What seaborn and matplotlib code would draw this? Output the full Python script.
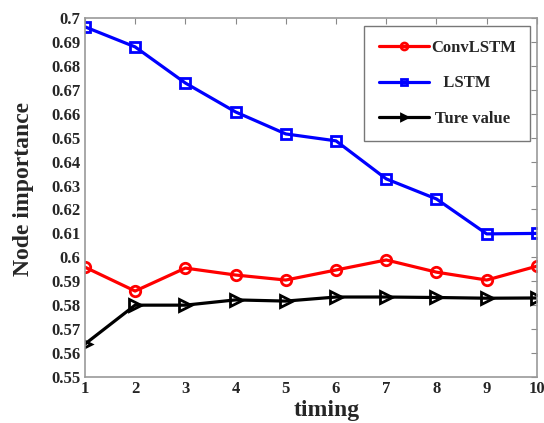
import seaborn as sns
import matplotlib.pyplot as plt
import pandas as pd

timing = [1, 2, 3, 4, 5, 6, 7, 8, 9, 10]
convlstm = [0.5959, 0.5859, 0.5955, 0.5926, 0.5905, 0.5947, 0.5989, 0.5938, 0.5905, 0.5963]
lstm = [0.6964, 0.6880, 0.6729, 0.6608, 0.6516, 0.6487, 0.6328, 0.6244, 0.6098, 0.6100]
true_value = [0.5637, 0.5800, 0.5800, 0.5822, 0.5817, 0.5834, 0.5834, 0.5832, 0.5829, 0.5830]
yticks = [0.55, 0.56, 0.57, 0.58, 0.59, 0.6, 0.61, 0.62, 0.63, 0.64, 0.65, 0.66, 0.67, 0.68, 0.69, 0.7]

sns.set_style("white")
plt.rcParams['font.family'] = ['Liberation Serif', 'DejaVu Serif']
plt.rcParams['font.weight'] = 'bold'

fig = plt.figure(figsize=(5.44, 4.23), dpi=100)
ax = fig.add_axes([0.156, 0.109, 0.831, 0.848])

sns.lineplot(x=timing, y=convlstm, ax=ax, color='#ff0000', marker='o', ms=7.5,
             mfc='none', mec='#ff0000', mew=2, lw=2.3, label='ConvLSTM')
sns.lineplot(x=timing, y=lstm, ax=ax, color='#0000ff', marker='s', ms=6.5,
             mfc='none', mec='#0000ff', mew=2, lw=2.3, label='   LSTM')
sns.lineplot(x=timing, y=true_value, ax=ax, color='black', marker='>', ms=8.5,
             mfc='none', mec='black', mew=2, lw=2.3, label=' Ture value')

ax.set_xlim(1, 10)
ax.set_ylim(0.55, 0.7)
ax.set_xticks(timing)
ax.set_xticklabels([str(t) for t in timing], fontsize=12, fontweight='bold')
ax.set_yticks(yticks)
ax.set_yticklabels(['%g' % v for v in yticks], fontsize=12, fontweight='bold')
ax.tick_params(direction='in', length=4, color='#888888', top=True, right=True, pad=3)

for s in ax.spines.values():
    s.set_color('#999999')
    s.set_linewidth(1.2)

ax.set_xlabel('timing', fontsize=17, fontweight='bold')
ax.set_ylabel('Node importance', fontsize=17, fontweight='bold')
ax.xaxis.set_label_coords(0.535, -0.065)
ax.yaxis.set_label_coords(-0.112, 0.525)

leg = ax.legend(loc='upper right', bbox_to_anchor=(0.985, 0.978), borderaxespad=0,
                fancybox=False, handlelength=3.0, handletextpad=0.15,
                labelspacing=1.15, borderpad=0.85,
                prop={'weight': 'bold', 'size': 12})
leg.get_frame().set_edgecolor('#555555')
leg.get_frame().set_linewidth(1.0)
for h in leg.legend_handles:
    h.set_markersize(5)

fig.savefig('out.png', dpi=100)
